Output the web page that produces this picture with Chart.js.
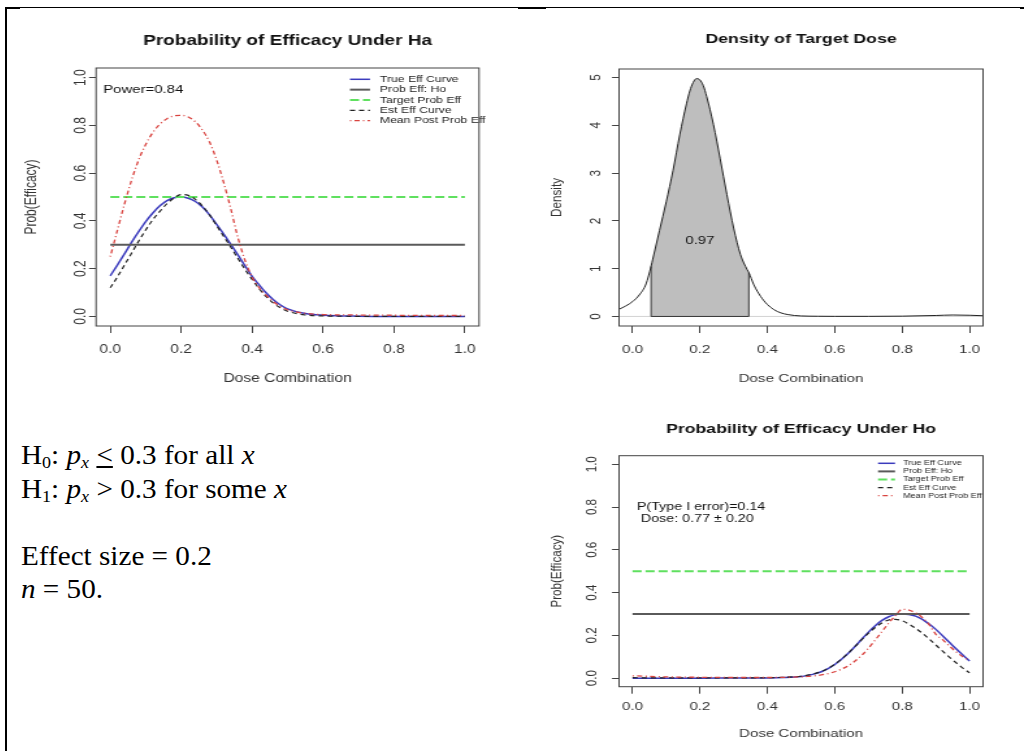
<!DOCTYPE html>
<html lang="en">
<head>
<meta charset="UTF-8">
<title>Probability of Efficacy - simulation summary</title>
<script src="https://cdn.jsdelivr.net/npm/chart.js"></script>
<style>
  body {
    margin: 0;
    width: 1025px;
    height: 751px;
    position: relative;
    overflow: hidden;
    background: #fff;
    font-family: "Liberation Sans", Arial, sans-serif;
  }
  .rule { position: absolute; background: #000; }
  /* the R plots in the picture are stretched sideways */
  canvas.plot { position: absolute; transform: scaleX(1.3); transform-origin: 0 0; }
  .hyp {
    position: absolute;
    left: 21px;
    top: 439px;
    font-family: "Liberation Serif", "Times New Roman", serif;
    font-size: 27px;
    line-height: 33.5px;
    color: #000;
    white-space: nowrap;
    transform: scaleX(1.08);
    transform-origin: 0 0;
  }
  .hyp sub { font-size: 0.62em; vertical-align: -0.22em; line-height: 0; }
</style>
</head>
<body>

<!-- table cell borders -->
<div class="rule" style="left:5px;top:7px;width:1019px;height:1px"></div>
<div class="rule" style="left:5px;top:7px;width:2px;height:744px"></div>
<div class="rule" style="left:5px;top:7px;width:15px;height:2px"></div>
<div class="rule" style="left:518px;top:7px;width:28px;height:2px"></div>
<div class="rule" style="left:1020px;top:7px;width:4px;height:2px"></div>

<canvas id="chartHa" class="plot" width="380" height="376" style="left:10px;top:20px"></canvas>
<canvas id="chartDens" class="plot" width="370" height="376" style="left:530px;top:20px"></canvas>
<canvas id="chartHo" class="plot" width="370" height="355" style="left:530px;top:395px"></canvas>

<div class="hyp">
  H<sub>0</sub>: <i>p<sub>x</sub></i> <u>&lt;</u> 0.3 for all <i>x</i><br>
  H<sub>1</sub>: <i>p<sub>x</sub></i> &gt; 0.3 for some <i>x</i><br>
  <br>
  Effect size = 0.2<br>
  <i>n</i> = 50.
</div>

<script>
  // ---- data: efficacy under Ha ----
  const haDose = [0, 0.02, 0.04, 0.06, 0.08, 0.10, 0.12, 0.14, 0.16, 0.18, 0.20, 0.22, 0.24, 0.26, 0.28, 0.30,
                  0.32, 0.34, 0.36, 0.38, 0.40, 0.42, 0.44, 0.46, 0.48, 0.50, 0.55, 0.60, 0.70, 0.80, 0.90, 1.00];
  const haTrue = [0.17, 0.215, 0.262, 0.31, 0.355, 0.397, 0.433, 0.463, 0.485, 0.497, 0.50, 0.495, 0.481, 0.458, 0.425, 0.385,
                  0.345, 0.302, 0.258, 0.212, 0.168, 0.132, 0.098, 0.07, 0.048, 0.032, 0.012, 0.005, 0.001, 0, 0, 0];
  const haEst = [0.12, 0.165, 0.215, 0.265, 0.315, 0.362, 0.405, 0.44, 0.472, 0.496, 0.51, 0.507, 0.49, 0.462, 0.425, 0.38,
                 0.335, 0.29, 0.243, 0.197, 0.155, 0.116, 0.083, 0.056, 0.036, 0.022, 0.006, 0.002, 0.0005, 0, 0, 0];
  const haPost = [0.25, 0.36, 0.47, 0.57, 0.655, 0.72, 0.77, 0.805, 0.828, 0.84, 0.842, 0.835, 0.815, 0.78, 0.73, 0.655,
                  0.56, 0.45, 0.33, 0.235, 0.165, 0.12, 0.088, 0.062, 0.042, 0.028, 0.013, 0.008, 0.006, 0.005, 0.004, 0.004];

  // ---- data: efficacy under Ho ----
  const hoDose = [0, 0.1, 0.2, 0.3, 0.4, 0.45, 0.50, 0.52, 0.54, 0.56, 0.58, 0.60, 0.62, 0.64, 0.66, 0.68,
                  0.70, 0.72, 0.74, 0.76, 0.78, 0.80, 0.82, 0.84, 0.86, 0.88, 0.90, 0.92, 0.94, 0.96, 0.98, 1.00];
  const hoTrue = [0, 0, 0, 0.0005, 0.001, 0.003, 0.008, 0.013, 0.02, 0.03, 0.045, 0.064, 0.088, 0.116, 0.148, 0.182,
                  0.215, 0.245, 0.27, 0.287, 0.297, 0.30, 0.298, 0.29, 0.275, 0.253, 0.228, 0.198, 0.168, 0.137, 0.108, 0.08];
  const hoEst = [0.002, 0.001, 0.001, 0.001, 0.002, 0.004, 0.009, 0.014, 0.021, 0.031, 0.046, 0.065, 0.089, 0.117, 0.148, 0.18,
                 0.21, 0.237, 0.258, 0.272, 0.275, 0.268, 0.253, 0.233, 0.21, 0.183, 0.155, 0.126, 0.098, 0.072, 0.047, 0.025];
  const hoPost = [0.011, 0.006, 0.004, 0.003, 0.003, 0.004, 0.006, 0.008, 0.011, 0.015, 0.021, 0.03, 0.042, 0.058, 0.08, 0.107,
                  0.14, 0.178, 0.218, 0.257, 0.292, 0.322, 0.318, 0.305, 0.283, 0.25, 0.205, 0.18, 0.15, 0.123, 0.1, 0.083];

  const nullProb = 0.3;
  const targetProb = 0.5;
  const doseRange = [0, 1];
  const doseTicks = [0, 0.2, 0.4, 0.6, 0.8, 1.0];
  const probTicks = [0, 0.2, 0.4, 0.6, 0.8, 1.0];

  // ---- data: density of target dose ----
  const densDose = [-0.04, -0.02, 0, 0.02, 0.04, 0.055, 0.06, 0.08, 0.10, 0.12, 0.14, 0.16, 0.17, 0.18, 0.19, 0.20,
                    0.21, 0.22, 0.24, 0.26, 0.28, 0.30, 0.32, 0.34, 0.345, 0.36, 0.38, 0.40, 0.42, 0.44, 0.46, 0.48,
                    0.50, 0.55, 0.60, 0.70, 0.80, 0.90, 0.95, 1.00, 1.04];
  const densValue = [0.15, 0.22, 0.31, 0.45, 0.68, 1.05, 1.2, 1.8, 2.4, 3.05, 3.8, 4.45, 4.72, 4.9, 4.98, 4.95,
                     4.83, 4.6, 4.02, 3.3, 2.55, 1.85, 1.3, 0.98, 0.92, 0.66, 0.42, 0.25, 0.14, 0.075, 0.04, 0.02,
                     0.01, 0.004, 0.002, 0.002, 0.006, 0.02, 0.03, 0.025, 0.015];
  const densTicks = [0, 1, 2, 3, 4, 5];
  const densShade = [0.055, 0.345];
  const densShadeLabel = '0.97';

  const powerText = 'Power=0.84';
  const typeOneText = ['P(Type I error)=0.14', ' Dose: 0.77 \u00b1 0.20'];

  Chart.defaults.font.family = '"Liberation Sans", Arial, sans-serif';
  Chart.defaults.color = '#333';

  const pts = (xs, ys) => xs.map((x, i) => ({ x: x, y: ys[i] }));

  // box, main title, text notes and R style legend
  const rFrame = {
    id: 'rFrame',
    afterDraw(chart, args, opts) {
      const { ctx, chartArea: a } = chart;
      const xs = chart.scales.x, ys = chart.scales.y;
      const fam = Chart.defaults.font.family;
      ctx.save();
      ctx.strokeStyle = '#444';
      ctx.lineWidth = 1;
      ctx.strokeRect(a.left, a.top, a.right - a.left, a.bottom - a.top);

      ctx.fillStyle = '#111';
      ctx.textBaseline = 'middle';
      ctx.textAlign = 'center';
      ctx.font = 'bold ' + opts.titleSize + 'px ' + fam;
      ctx.fillText(opts.title, (a.left + a.right) / 2, opts.titleY);

      (opts.notes || []).forEach(n => {
        ctx.font = n.size + 'px ' + fam;
        ctx.textAlign = n.align || 'left';
        ctx.fillText(n.text, xs.getPixelForValue(n.x), ys.getPixelForValue(n.y));
      });

      const L = opts.legend;
      if (L) {
        ctx.font = L.size + 'px ' + fam;
        ctx.textAlign = 'left';
        chart.data.datasets.filter(d => d.label).forEach((d, i) => {
          const yy = a.top + L.top + i * L.gap;
          ctx.strokeStyle = d.borderColor;
          ctx.lineWidth = d.borderWidth;
          ctx.setLineDash(d.borderDash || []);
          ctx.beginPath();
          ctx.moveTo(a.right - L.line0, yy);
          ctx.lineTo(a.right - L.line1, yy);
          ctx.stroke();
          ctx.setLineDash([]);
          ctx.fillStyle = '#222';
          ctx.fillText(d.label, a.right - L.text, yy);
        });
      }
      ctx.restore();
    }
  };

  function axes(o) {
    return {
      x: {
        type: 'linear', min: o.xMin, max: o.xMax,
        afterBuildTicks: s => { s.ticks = o.xTicks.map(v => ({ value: v })); },
        afterFit: s => { s.height = o.xHeight; },
        ticks: { callback: v => v.toFixed(1), padding: o.xPad, font: { size: o.fs }, color: '#333', maxRotation: 0, autoSkip: false },
        grid: { drawOnChartArea: false, drawTicks: true, tickLength: 7, color: '#444' },
        border: { display: false },
        title: { display: true, text: 'Dose Combination', font: { size: o.fs }, color: '#333', padding: { top: 0, bottom: o.xTitlePad } }
      },
      y: {
        type: 'linear', min: o.yMin, max: o.yMax,
        afterBuildTicks: s => { s.ticks = o.yTicks.map(v => ({ value: v })); },
        afterFit: s => { s.width = o.yWidth; },
        ticks: { callback: o.yFmt, padding: o.yPad, font: { size: o.fs }, color: '#333',
                 minRotation: 90, maxRotation: 90, crossAlign: 'center', autoSkip: false },
        grid: { drawOnChartArea: false, drawTicks: true, tickLength: 5.4, color: '#444' },
        border: { display: false },
        title: { display: true, text: o.yTitle, font: { size: o.fs }, color: '#333', padding: { top: o.yTitlePad, bottom: 0 } }
      }
    };
  }

  function probDatasets(dose, truth, est, post) {
    const line = { pointRadius: 0, fill: false, cubicInterpolationMode: 'monotone' };
    return [
      Object.assign({ label: 'True Eff Curve', data: pts(dose, truth), borderColor: '#3b3bbd', borderWidth: 1.5, order: 4 }, line),
      Object.assign({ label: 'Prob Eff: Ho', data: pts(doseRange, [nullProb, nullProb]), borderColor: '#5a5a5a', borderWidth: 2, order: 3 }, line),
      Object.assign({ label: 'Target Prob Eff', data: pts(doseRange, [targetProb, targetProb]), borderColor: '#5fe05f', borderWidth: 2, borderDash: [7, 3], order: 2 }, line),
      Object.assign({ label: 'Est Eff Curve', data: pts(dose, est), borderColor: '#222', borderWidth: 1.2, borderDash: [4, 3], order: 1 }, line),
      Object.assign({ label: 'Mean Post Prob Eff', data: pts(dose, post), borderColor: '#d9433f', borderWidth: 1.3, borderDash: [1, 2.5, 4, 2.5], order: 0 }, line)
    ];
  }

  const common = {
    responsive: false,
    animation: false,
    devicePixelRatio: 1,
    parsing: false
  };

  // Probability of Efficacy Under Ha
  new Chart(document.getElementById('chartHa'), {
    type: 'line',
    data: { datasets: probDatasets(haDose, haTrue, haEst, haPost) },
    options: Object.assign({}, common, {
      layout: { padding: { top: 48, right: 19.2, bottom: 0, left: 0 } },
      scales: axes({ xMin: -0.04, xMax: 1.04, yMin: -0.04, yMax: 1.04, xTicks: doseTicks, yTicks: probTicks,
                     yFmt: v => v.toFixed(1), fs: 12, xHeight: 70, xPad: 9.8, xTitlePad: 9.8,
                     yWidth: 66.2, yPad: -2.7, yTitlePad: 9.7, yTitle: 'Prob(Efficacy)' }),
      plugins: {
        legend: { display: false },
        tooltip: { enabled: false },
        rFrame: {
          title: 'Probability of Efficacy Under Ha', titleSize: 14.6, titleY: 21,
          notes: [{ text: powerText, x: -0.02, y: 0.95, size: 11.5 }],
          legend: { size: 9.4, top: 11.3, gap: 10.35, line0: 99.3, line1: 83.9, text: 76.2 }
        }
      }
    }),
    plugins: [rFrame]
  });

  // Density of Target Dose
  const densPts = pts(densDose, densValue);
  const inShade = densPts.filter(p => p.x >= densShade[0] && p.x <= densShade[1]);
  const shadeLo = inShade[0], shadeHi = inShade[inShade.length - 1];
  const edge = { borderColor: '#333', borderWidth: 1, pointRadius: 0, fill: false };

  new Chart(document.getElementById('chartDens'), {
    type: 'line',
    data: {
      datasets: [
        Object.assign({ data: densPts, borderColor: '#222', borderWidth: 1, cubicInterpolationMode: 'monotone', order: 0 }, { pointRadius: 0, fill: false }),
        Object.assign({ data: [{ x: shadeLo.x, y: 0 }, shadeLo], order: 1 }, edge),
        Object.assign({ data: [{ x: shadeHi.x, y: 0 }, shadeHi], order: 1 }, edge),
        Object.assign({ data: pts(densShade, [0, 0]), order: 1 }, edge),
        { data: inShade, borderWidth: 0, backgroundColor: '#bebebe', pointRadius: 0, cubicInterpolationMode: 'monotone', fill: 'origin', order: 2 },
        { data: pts([-0.04, 1.04], [0, 0]), borderColor: '#c8c8c8', borderWidth: 0.8, pointRadius: 0, fill: false, order: 3 }
      ]
    },
    options: Object.assign({}, common, {
      layout: { padding: { top: 49, right: 21.5, bottom: 0, left: 0 } },
      scales: axes({ xMin: -0.04, xMax: 1.04, yMin: -0.2, yMax: 5.18, xTicks: doseTicks, yTicks: densTicks,
                     yFmt: v => String(v), fs: 11.7, xHeight: 70, xPad: 9.3, xTitlePad: 10,
                     yWidth: 68.5, yPad: 9, yTitlePad: 13.5, yTitle: 'Density' }),
      plugins: {
        legend: { display: false },
        tooltip: { enabled: false },
        rFrame: {
          title: 'Density of Target Dose', titleSize: 13.6, titleY: 19,
          notes: [{ text: densShadeLabel, x: 0.2, y: 1.59, size: 11.5, align: 'center' }]
        }
      }
    }),
    plugins: [rFrame]
  });

  // Probability of Efficacy Under Ho
  new Chart(document.getElementById('chartHo'), {
    type: 'line',
    data: { datasets: probDatasets(hoDose, hoTrue, hoEst, hoPost) },
    options: Object.assign({}, common, {
      layout: { padding: { top: 60.7, right: 21.5, bottom: 0, left: 0 } },
      scales: axes({ xMin: -0.04, xMax: 1.04, yMin: -0.04, yMax: 1.04, xTicks: doseTicks, yTicks: probTicks,
                     yFmt: v => v.toFixed(1), fs: 11.6, xHeight: 63.3, xPad: 6.3, xTitlePad: 9,
                     yWidth: 68.5, yPad: 7.5, yTitlePad: 13.5, yTitle: 'Prob(Efficacy)' }),
      plugins: {
        legend: { display: false },
        tooltip: { enabled: false },
        rFrame: {
          title: 'Probability of Efficacy Under Ho', titleSize: 13.6, titleY: 34,
          notes: [
            { text: typeOneText[0], x: 0.013, y: 0.80, size: 11 },
            { text: typeOneText[1], x: 0.013, y: 0.746, size: 11 }
          ],
          legend: { size: 7, top: 7.6, gap: 8.1, line0: 80.8, line1: 67.7, text: 61.6 }
        }
      }
    }),
    plugins: [rFrame]
  });
</script>
</body>
</html>
